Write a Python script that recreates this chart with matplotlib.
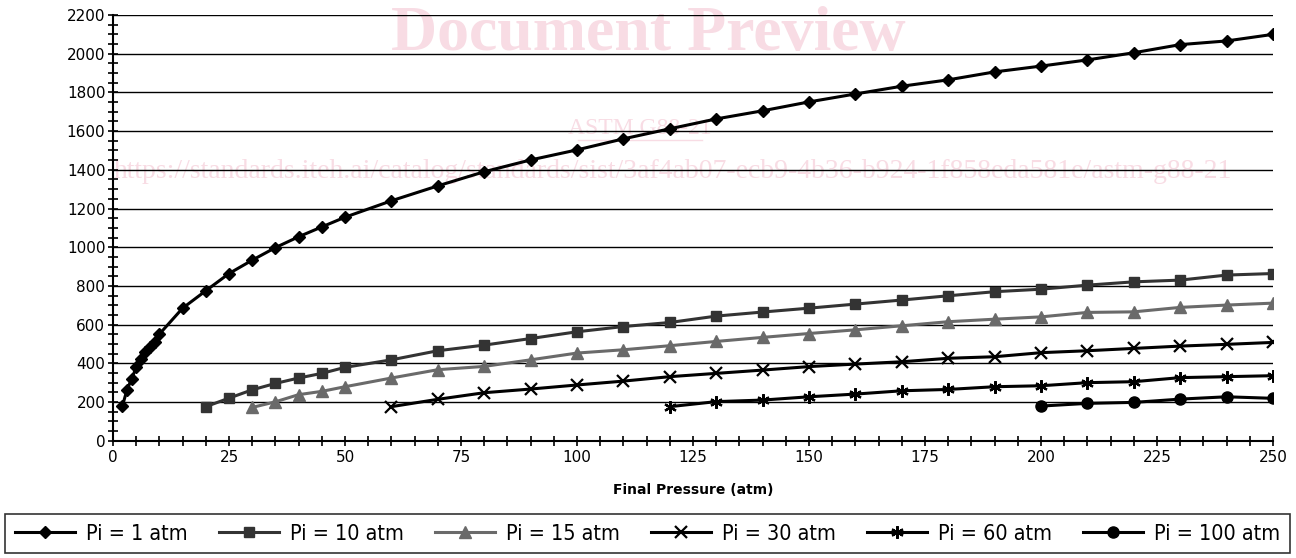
import matplotlib
matplotlib.use("Agg")
import matplotlib.pyplot as plt
from matplotlib.ticker import MultipleLocator

# Final pressure (atm) and values
x_pi1 = [2, 3, 4, 5, 6, 7, 8, 9, 10, 15, 20, 25, 30, 35, 40, 45, 50,
         60, 70, 80, 90, 100, 110, 120, 130, 140, 150, 160, 170, 180,
         190, 200, 210, 220, 230, 240, 250]
y_pi1 = [177, 262, 319, 379, 422, 456, 482, 511, 551, 685, 775, 864, 933,
         998, 1054, 1105, 1155, 1240, 1317, 1390, 1451, 1503, 1560, 1612,
         1663, 1705, 1751, 1792, 1832, 1865, 1906, 1936, 1968, 2005, 2047,
         2066, 2100]

x_pi10 = [20, 25, 30, 35, 40, 45, 50, 60, 70, 80, 90, 100, 110, 120, 130,
          140, 150, 160, 170, 180, 190, 200, 210, 220, 230, 240, 250]
y_pi10 = [176, 220, 263, 296, 324, 348, 379, 418, 465, 494, 528, 563, 590,
          611, 644, 665, 685, 706, 727, 749, 770, 783, 804, 821, 830, 856, 864]

x_pi15 = [30, 35, 40, 45, 50, 60, 70, 80, 90, 100, 110, 120, 130, 140, 150,
          160, 170, 180, 190, 200, 210, 220, 230, 240, 250]
y_pi15 = [172, 201, 238, 255, 279, 324, 367, 384, 418, 453, 470, 491, 513,
          534, 554, 573, 594, 615, 628, 640, 663, 666, 689, 701, 711]

x_pi30 = [60, 70, 80, 90, 100, 110, 120, 130, 140, 150, 160, 170, 180, 190,
          200, 210, 220, 230, 240, 250]
y_pi30 = [176, 214, 248, 267, 288, 308, 331, 348, 365, 383, 396, 408, 426,
          434, 455, 465, 477, 489, 498, 508]

x_pi60 = [120, 130, 140, 150, 160, 170, 180, 190, 200, 210, 220, 230, 240, 250]
y_pi60 = [176, 202, 210, 227, 241, 258, 265, 279, 284, 300, 305, 326, 331, 336]

x_pi100 = [200, 210, 220, 230, 240, 250]
y_pi100 = [179, 193, 198, 215, 227, 219]

plt.rcParams['font.family'] = ['DejaVu Sans']

fig = plt.figure(figsize=(12.96, 5.58), dpi=100)
ax = fig.add_axes([0.0872, 0.2102, 0.8951, 0.7629])
ax.set_zorder(1)
ax.patch.set_alpha(0)

# watermark from the source document, sits behind the plot
wm = '#f8dce4'
fig.text(0.50, 0.937, 'Document Preview', color=wm, fontsize=46, fontweight='bold',
         family='Liberation Serif', ha='center', va='center', zorder=0)
fig.text(0.494, 0.770, 'ASTM G88-21', color=wm, fontsize=17, family='Liberation Serif',
         ha='center', va='center', zorder=0)
fig.lines.append(plt.Line2D([0.446, 0.542], [0.749, 0.749], transform=fig.transFigure,
                            color=wm, lw=1, zorder=0))
fig.text(0.519, 0.692,
         'https://standards.iteh.ai/catalog/standards/sist/3af4ab07-ecb9-4b36-b924-1f858eda581e/astm-g88-21',
         color=wm, fontsize=20, family='Liberation Serif', ha='center', va='center', zorder=0)

lw = 2.2
ax.plot(x_pi1, y_pi1, color='black', lw=lw, marker='D', ms=6.5, label='Pi = 1 atm')
ax.plot(x_pi10, y_pi10, color='#333333', lw=lw, marker='s', ms=7.5, label='Pi = 10 atm')
ax.plot(x_pi15, y_pi15, color='#6a6a6a', lw=lw, marker='^', ms=8, label='Pi = 15 atm')
ax.plot(x_pi30, y_pi30, color='black', lw=lw, marker='x', ms=9, mew=1.6, label='Pi = 30 atm')
ax.plot(x_pi60, y_pi60, color='black', lw=lw, marker=(6, 2, 0), ms=9, mew=1.6, label='Pi = 60 atm')
ax.plot(x_pi100, y_pi100, color='black', lw=lw, marker='o', ms=8, label='Pi = 100 atm')

ax.set_xlim(0, 250)
ax.set_ylim(0, 2200)
ax.xaxis.set_major_locator(MultipleLocator(25))
ax.xaxis.set_minor_locator(MultipleLocator(5))
ax.yaxis.set_major_locator(MultipleLocator(200))
ax.yaxis.set_minor_locator(MultipleLocator(50))
ax.tick_params(which='both', direction='inout', length=7, width=1.2, labelsize=11)
ax.tick_params(axis='y', pad=2)
ax.grid(True, axis='y', color='black', lw=1)
ax.set_axisbelow(True)
for s in ['top', 'right']:
    ax.spines[s].set_visible(False)
for s in ['left', 'bottom']:
    ax.spines[s].set_linewidth(1.5)

ax.set_xlabel('Final Pressure (atm)', fontsize=10, fontweight='bold', labelpad=13)

leg = fig.legend(loc='upper left', bbox_to_anchor=(5 / 1296, 4 / 558, 1285 / 1296, 40 / 558),
                 mode='expand', ncol=6, frameon=True, fancybox=False, edgecolor='black',
                 prop=dict(family='DejaVu Sans', stretch='condensed', size=15.5),
                 handlelength=2.8, handletextpad=0.5, borderpad=0.45, borderaxespad=0)
leg.get_frame().set_linewidth(1.2)

plt.savefig('out.png', dpi=100)
